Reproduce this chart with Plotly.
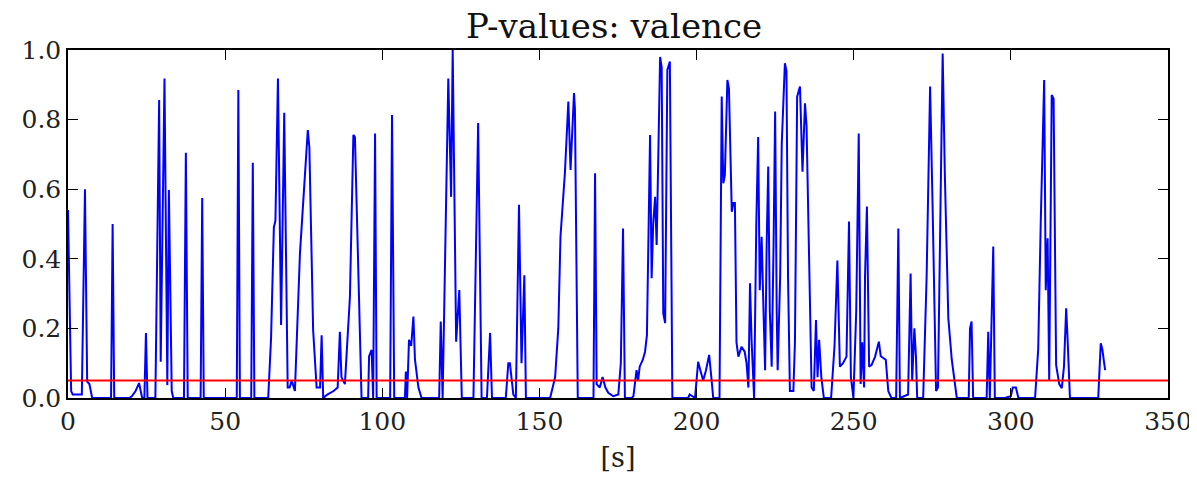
import plotly.graph_objects as go

time_s = [0, 1.0, 1.5, 4.4, 5.4, 6.1, 6.8, 7.7, 13.7, 14.2, 14.7, 19.5, 20.3, 21.5, 22.6, 23.2, 23.6, 24.3, 24.8, 25.3,
          27.8, 29.0, 29.5, 30.7, 31.6, 32.1, 33.0, 33.5, 36.9, 37.5, 38.1, 42.2, 42.7, 43.2, 53.7, 54.2, 54.7, 58.3,
          58.8, 59.3, 63.7, 64.6, 65.5, 66.0, 66.8, 67.8, 68.8, 69.9, 70.5, 71.2, 72.2, 73.8, 76.3, 76.8, 78.0, 79.1,
          80.2, 80.7, 81.2, 82.5, 84.5, 85.8, 86.5, 87.0, 88.1, 89.7, 90.8, 91.3, 91.8, 93.4, 95.5, 95.8, 96.6, 97.1,
          97.7, 98.2, 102.5, 103.1, 103.8, 107.2, 107.5, 107.9, 108.5, 109.2, 109.9, 110.4, 111.5, 112.5, 118.1,
          118.6, 119.2, 120.1, 121.0, 121.9, 122.4, 123.5, 124.5, 125.3, 129.0, 130.5, 131.6, 133.3, 134.3, 134.9,
          139.3, 140.1, 140.6, 141.7, 142.5, 143.5, 144.3, 145.2, 145.7, 153.4, 155.0, 156.0, 156.7, 158.1, 159.2,
          159.9, 161.0, 161.3, 162.2, 167.2, 167.7, 168.2, 169.2, 170.1, 171.0, 171.9, 173.5, 175.1, 175.9, 176.6,
          177.2, 179.3, 179.9, 180.9, 181.4, 181.9, 182.9, 183.6, 184.2, 185.2, 185.7, 186.2, 186.8, 187.3, 188.4,
          188.9, 189.4, 190.0, 190.7, 191.5, 192.3, 197.3, 197.8, 199.5, 200.5, 201.2, 202.1, 203.0, 204.0, 204.8,
          205.3, 207.3, 208.0, 208.5, 209.0, 209.8, 210.3, 211.2, 211.7, 212.2, 212.7, 213.3, 214.3, 215.3, 215.9,
          216.5, 217.0, 217.5, 218.3, 219.0, 219.6, 220.1, 220.7, 221.3, 221.8, 222.3, 222.8, 223.3, 223.9, 224.5,
          225.0, 225.5, 225.8, 226.6, 227.1, 228.1, 228.6, 229.1, 229.7, 230.8, 231.3, 232.0, 232.9, 233.7, 234.5,
          235.0, 235.5, 236.6, 237.3, 238.0, 238.5, 239.0, 239.7, 240.5, 242.8, 243.9, 244.8, 245.6, 246.6, 247.7,
          248.5, 249.1, 249.9, 250.8, 251.6, 252.2, 252.7, 253.3, 253.6, 254.2, 254.9, 255.7, 256.8, 258.0, 258.6,
          260.2, 261.0, 262.0, 263.5, 264.2, 264.7, 266.8, 267.3, 268.1, 268.6, 269.3, 269.8, 270.2, 272.1, 273.2,
          274.3, 275.1, 276.2, 276.8, 277.5, 278.3, 279.0, 280.1, 281.2, 282.8, 286.6, 287.0, 287.5, 288.0, 292.3,
          292.8, 293.3, 293.8, 294.4, 294.9, 298.0, 300.0, 300.6, 301.6, 302.4, 307.7, 308.7, 309.5, 310.6, 311.1,
          311.7, 312.2, 313.0, 313.6, 314.4, 315.4, 316.2, 316.9, 317.6, 318.0, 318.8, 327.8, 328.6, 329.1, 330.0]

p_values = [0.54, 0.02, 0.01, 0.01, 0.60, 0.047, 0.04, 0.0, 0.0, 0.50, 0.0, 0.0, 0.005, 0.02, 0.043, 0.01, 0.0, 0.0, 0.187, 0.0,
            0.0, 0.856, 0.104, 0.918, 0.037, 0.598, 0.02, 0.0, 0.0, 0.705, 0.0, 0.0, 0.575, 0.0, 0.0, 0.885, 0.0, 0.0,
            0.676, 0.0, 0.0, 0.17, 0.49, 0.51, 0.918, 0.21, 0.82, 0.03, 0.03, 0.05, 0.02, 0.415, 0.77, 0.72, 0.195, 0.03,
            0.03, 0.18, 0.0, 0.01, 0.02, 0.03, 0.19, 0.06, 0.04, 0.29, 0.756, 0.75, 0.55, 0.0, 0.0, 0.12, 0.138, 0.0,
            0.76, 0.0, 0.0, 0.813, 0.0, 0.0, 0.076, 0.0, 0.167, 0.15, 0.234, 0.11, 0.03, 0.0, 0.0,
            0.22, 0.0, 0.5, 0.918, 0.578, 1.0, 0.162, 0.31, 0.0, 0.0, 0.79, 0.0, 0.0, 0.187, 0.0,
            0.0, 0.1, 0.1, 0.01, 0.0, 0.555, 0.1, 0.353, 0.0, 0.0, 0.06, 0.2, 0.464, 0.646, 0.852,
            0.655, 0.876, 0.83, 0.0, 0.0, 0.646, 0.04, 0.03, 0.06, 0.03, 0.015, 0.005, 0.01, 0.1, 0.487,
            0.0, 0.0, 0.005, 0.08, 0.05, 0.09, 0.11, 0.133, 0.18, 0.756, 0.344, 0.5, 0.578, 0.44, 0.98,
            0.95, 0.243, 0.215, 0.943, 0.967, 0.0, 0.0, 0.01, 0.0, 0.104, 0.08, 0.05, 0.08, 0.124, 0.05,
            0.0, 0.0, 0.866, 0.617, 0.64, 0.914, 0.89, 0.535, 0.56, 0.56, 0.16, 0.119, 0.147, 0.133, 0.1,
            0.03, 0.33, 0.167, 0.0, 0.5, 0.75, 0.31, 0.463, 0.25, 0.08, 0.44, 0.665, 0.25, 0.09, 0.44,
            0.823, 0.25, 0.08, 0.35, 0.73, 0.962, 0.94, 0.35, 0.02, 0.02, 0.16, 0.866, 0.895, 0.65, 0.847,
            0.78, 0.54, 0.03, 0.02, 0.224, 0.06, 0.167, 0.06, 0.0, 0.0, 0.15, 0.395, 0.09, 0.1, 0.119,
            0.507, 0.06, 0.0, 0.25, 0.76, 0.04, 0.16, 0.03, 0.35, 0.55, 0.09, 0.095, 0.119, 0.162, 0.12,
            0.11, 0.02, 0.0, 0.0, 0.487, 0.0, 0.01, 0.01, 0.358, 0.05, 0.2, 0.12, 0.0, 0.0, 0.35,
            0.895, 0.55, 0.02, 0.03, 0.55, 0.99, 0.64, 0.23, 0.11, 0.0, 0.0, 0.2, 0.22, 0.0, 0.0,
            0.19, 0.0, 0.17, 0.435, 0.0, 0.0, 0.005, 0.03, 0.03, 0.0, 0.0, 0.14, 0.5, 0.914, 0.31,
            0.459, 0.05, 0.871, 0.86, 0.095, 0.04, 0.028, 0.09, 0.258, 0.18, 0.0, 0.0, 0.157, 0.14, 0.08]

threshold = 0.05
x_ticks = [0, 50, 100, 150, 200, 250, 300, 350]
y_ticks = [0.0, 0.2, 0.4, 0.6, 0.8, 1.0]
title_text = "P-values: valence"

FONT = "DejaVu Serif"

fig = go.Figure()
fig.add_trace(go.Scatter(x=time_s, y=p_values, mode="lines",
                         line=dict(color="#0000ff", width=2), showlegend=False))
fig.add_trace(go.Scatter(x=[0, 350], y=[threshold, threshold], mode="lines",
                         line=dict(color="#ff0000", width=2), showlegend=False))

axis_common = dict(showline=True, linecolor="black", linewidth=1.5, mirror="ticks",
                   ticks="inside", ticklen=10, tickwidth=1.2, tickcolor="black",
                   showgrid=False, zeroline=False,
                   tickfont=dict(family=FONT, size=25, color="#222222"))

# The page body adds an 8px offset, so the figure is sized to fit the window.
fig.update_layout(
    width=1185, height=465,
    margin=dict(l=60, r=25, t=42, b=75),
    paper_bgcolor="white", plot_bgcolor="white",
    xaxis=dict(range=[0, 350], tickvals=x_ticks, ticktext=[str(v) for v in x_ticks],
               title=dict(text="[s]", standoff=16, font=dict(family=FONT, size=27, color="#222222")),
               automargin=False, **axis_common),
    yaxis=dict(range=[0, 1], tickvals=y_ticks, ticktext=[f"{v:.1f}" for v in y_ticks],
               automargin=False, **axis_common),
)
fig.add_annotation(text=title_text, xref="paper", yref="paper", x=0.496, y=1.0,
                   xanchor="center", yanchor="bottom", yshift=2, showarrow=False,
                   font=dict(family=FONT, size=34, color="#111111"))

fig.write_html("out.html")
